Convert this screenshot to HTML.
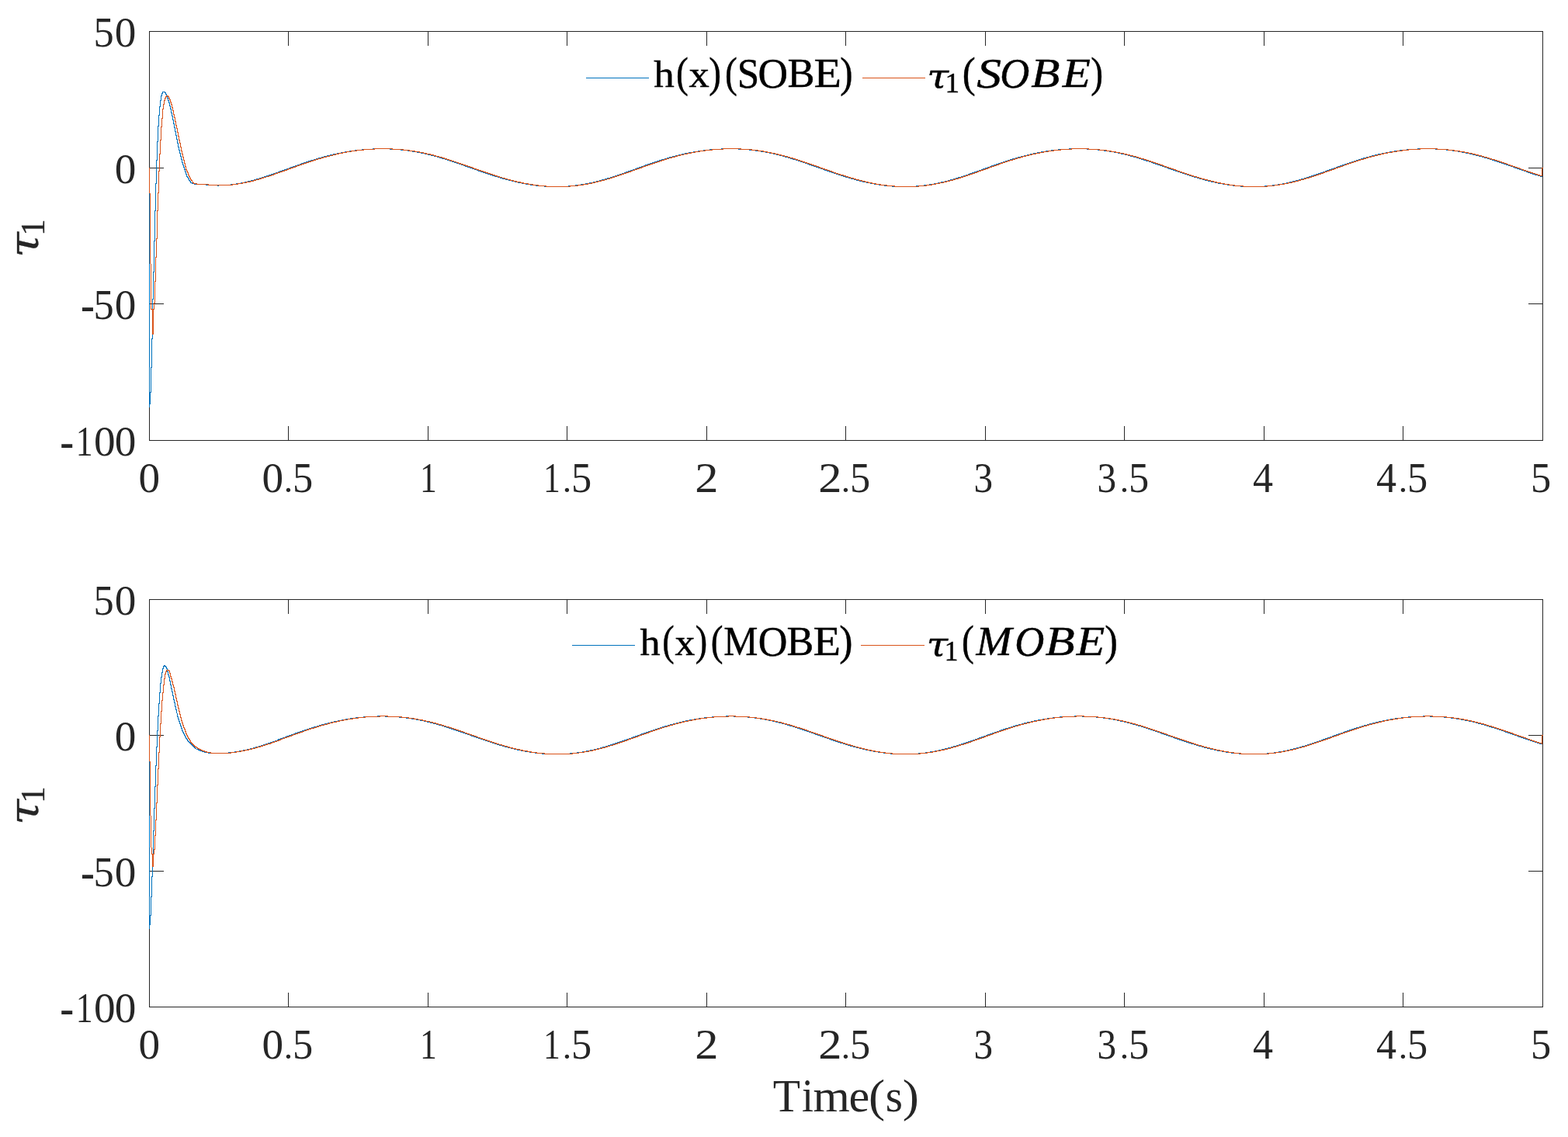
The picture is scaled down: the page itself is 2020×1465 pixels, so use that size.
<!DOCTYPE html>
<html lang="en">
<head>
<meta charset="utf-8">
<title>Figure</title>
<style>
html,body{margin:0;padding:0;background:#fff;}
body{width:2020px;height:1465px;overflow:hidden;}
svg{display:block;font-family:"Liberation Serif",serif;}
</style>
</head>
<body>
<svg width="2020" height="1465" viewBox="0 0 2020 1465">
<rect x="0" y="0" width="2020" height="1465" fill="#fff"/>
<g><path d="M192 40.5h1796M192 567.5h1796M192.5 40v528M1987.5 40v528M371.5 549v18M371.5 41v18M551.5 549v18M551.5 41v18M730.5 549v18M730.5 41v18M910.5 549v18M910.5 41v18M1089.5 549v18M1089.5 41v18M1269.5 549v18M1269.5 41v18M1448.5 549v18M1448.5 41v18M1628.5 549v18M1628.5 41v18M1807.5 549v18M1807.5 41v18M193 216.5h18M1969 216.5h18M193 391.5h18M1969 391.5h18" fill="none" stroke="#262626" stroke-width="1" shape-rendering="crispEdges"/>
<text fill="#262626"><tspan x="178.56" y="633.67" font-size="53.94" textLength="27.61" lengthAdjust="spacingAndGlyphs">0</tspan></text>
<text fill="#262626"><tspan x="337.56" y="633.67" font-size="53.94" textLength="27.61" lengthAdjust="spacingAndGlyphs">0</tspan><tspan x="365.80" y="634.23" font-size="43.99" textLength="11.36" lengthAdjust="spacingAndGlyphs">.</tspan><tspan x="377.02" y="633.66" font-size="54.77" textLength="26.19" lengthAdjust="spacingAndGlyphs">5</tspan></text>
<text fill="#262626"><tspan x="540.91" y="633.80" font-size="54.38" textLength="21.80" lengthAdjust="spacingAndGlyphs">1</tspan></text>
<text fill="#262626"><tspan x="699.91" y="633.80" font-size="54.38" textLength="21.80" lengthAdjust="spacingAndGlyphs">1</tspan><tspan x="724.80" y="634.23" font-size="43.99" textLength="11.36" lengthAdjust="spacingAndGlyphs">.</tspan><tspan x="736.02" y="633.66" font-size="54.77" textLength="26.19" lengthAdjust="spacingAndGlyphs">5</tspan></text>
<text fill="#262626"><tspan x="895.24" y="633.80" font-size="54.52" textLength="30.24" lengthAdjust="spacingAndGlyphs">2</tspan></text>
<text fill="#262626"><tspan x="1054.24" y="633.80" font-size="54.52" textLength="30.24" lengthAdjust="spacingAndGlyphs">2</tspan><tspan x="1083.80" y="634.23" font-size="43.99" textLength="11.36" lengthAdjust="spacingAndGlyphs">.</tspan><tspan x="1095.02" y="633.66" font-size="54.77" textLength="26.19" lengthAdjust="spacingAndGlyphs">5</tspan></text>
<text fill="#262626"><tspan x="1254.54" y="633.67" font-size="54.32" textLength="24.58" lengthAdjust="spacingAndGlyphs">3</tspan></text>
<text fill="#262626"><tspan x="1413.54" y="633.67" font-size="54.32" textLength="24.58" lengthAdjust="spacingAndGlyphs">3</tspan><tspan x="1442.80" y="634.23" font-size="43.99" textLength="11.36" lengthAdjust="spacingAndGlyphs">.</tspan><tspan x="1454.02" y="633.66" font-size="54.77" textLength="26.19" lengthAdjust="spacingAndGlyphs">5</tspan></text>
<text fill="#262626"><tspan x="1613.88" y="633.80" font-size="54.85" textLength="26.03" lengthAdjust="spacingAndGlyphs">4</tspan></text>
<text fill="#262626"><tspan x="1772.88" y="633.80" font-size="54.85" textLength="26.03" lengthAdjust="spacingAndGlyphs">4</tspan><tspan x="1801.80" y="634.23" font-size="43.99" textLength="11.36" lengthAdjust="spacingAndGlyphs">.</tspan><tspan x="1813.02" y="633.66" font-size="54.77" textLength="26.19" lengthAdjust="spacingAndGlyphs">5</tspan></text>
<text fill="#262626"><tspan x="1972.02" y="633.66" font-size="54.77" textLength="26.19" lengthAdjust="spacingAndGlyphs">5</tspan></text>
<text fill="#262626"><tspan x="120.59" y="59.96" font-size="54.77" textLength="26.19" lengthAdjust="spacingAndGlyphs">5</tspan><tspan x="147.80" y="59.97" font-size="53.94" textLength="27.61" lengthAdjust="spacingAndGlyphs">0</tspan></text>
<text fill="#262626"><tspan x="147.80" y="235.97" font-size="53.94" textLength="27.61" lengthAdjust="spacingAndGlyphs">0</tspan></text>
<text fill="#262626"><tspan x="103.95" y="414.12" font-size="63.45" textLength="17.92" lengthAdjust="spacingAndGlyphs">-</tspan><tspan x="120.59" y="410.96" font-size="54.77" textLength="26.19" lengthAdjust="spacingAndGlyphs">5</tspan><tspan x="147.80" y="410.97" font-size="53.94" textLength="27.61" lengthAdjust="spacingAndGlyphs">0</tspan></text>
<text fill="#262626"><tspan x="77.28" y="590.12" font-size="63.45" textLength="17.92" lengthAdjust="spacingAndGlyphs">-</tspan><tspan x="97.82" y="587.10" font-size="54.38" textLength="21.80" lengthAdjust="spacingAndGlyphs">1</tspan><tspan x="121.13" y="586.97" font-size="53.94" textLength="27.61" lengthAdjust="spacingAndGlyphs">0</tspan><tspan x="147.80" y="586.97" font-size="53.94" textLength="27.61" lengthAdjust="spacingAndGlyphs">0</tspan></text>
<text fill="#262626" stroke="#262626" stroke-width="0.3" stroke-linejoin="round" transform="rotate(-90)"><tspan x="-332.01" y="48.58" font-size="53.14" textLength="33.03" lengthAdjust="spacingAndGlyphs" font-style="italic" font-family="'DejaVu Serif','Liberation Serif',serif">τ</tspan><tspan x="-303.86" y="57.10" font-size="44.23" textLength="21.38" lengthAdjust="spacingAndGlyphs">1</tspan></text>
<path d="M192.5 249v276M193.5 505v16M194.5 473v33M195.5 436v38M196.5 385v52M197.5 350v36M198.5 310v41M199.5 271v40M200.5 236v36M201.5 206v31M202.5 182v25M203.5 162v21M204.5 148v15M205.5 137v12M206.5 129v9M207.5 123v7M208.5 120v4M209.5 118v3M212.5 118v2M213.5 119v3M214.5 121v3M215.5 123v4M216.5 126v4M217.5 129v4M218.5 132v5M219.5 136v5M220.5 140v6M221.5 145v5M222.5 149v6M223.5 154v6M224.5 159v6M225.5 164v6M226.5 169v6M227.5 174v6M228.5 179v6M229.5 184v6M230.5 189v5M231.5 193v5M232.5 197v5M233.5 201v5M234.5 205v5M235.5 209v4M236.5 212v4M237.5 215v4M238.5 218v4M239.5 221v4M240.5 224v4M241.5 227v2M242.5 228v3M243.5 230v3M244.5 232v2M245.5 233v3M247.5 235v2M265.5 237v2M280.5 238v2M281.5 238v2M297.5 237v2M304.5 236v2M310.5 235v2M315.5 234v2M319.5 233v2M323.5 232v2M327.5 231v2M330.5 230v2M334.5 229v2M337.5 228v2M340.5 227v2M343.5 226v2M346.5 225v2M349.5 224v2M352.5 223v2M355.5 222v2M358.5 221v2M360.5 220v2M363.5 219v2M366.5 218v2M369.5 217v2M372.5 216v2M374.5 215v2M377.5 214v2M380.5 213v2M383.5 212v2M386.5 211v2M388.5 210v2M391.5 209v2M394.5 208v2M397.5 207v2M400.5 206v2M404.5 205v2M407.5 204v2M410.5 203v2M414.5 202v2M417.5 201v2M421.5 200v2M425.5 199v2M429.5 198v2M434.5 197v2M439.5 196v2M444.5 195v2M450.5 194v2M457.5 193v2M466.5 192v2M480.5 191v2M502.5 191v2M516.5 192v2M525.5 193v2M531.5 194v2M537.5 195v2M542.5 196v2M547.5 197v2M551.5 198v2M555.5 199v2M559.5 200v2M563.5 201v2M566.5 202v2M569.5 203v2M573.5 204v2M576.5 205v2M579.5 206v2M582.5 207v2M585.5 208v2M588.5 209v2M591.5 210v2M594.5 211v2M597.5 212v2M599.5 213v2M602.5 214v2M605.5 215v2M608.5 216v2M611.5 217v2M614.5 218v2M616.5 219v2M619.5 220v2M622.5 221v2M625.5 222v2M628.5 223v2M631.5 224v2M634.5 225v2M637.5 226v2M641.5 227v2M644.5 228v2M647.5 229v2M651.5 230v2M655.5 231v2M659.5 232v2M663.5 233v2M667.5 234v2M672.5 235v2M677.5 236v2M683.5 237v2M690.5 238v2M701.5 239v2M732.5 239v2M741.5 238v2M748.5 237v2M754.5 236v2M759.5 235v2M764.5 234v2M768.5 233v2M772.5 232v2M775.5 231v2M779.5 230v2M782.5 229v2M786.5 228v2M789.5 227v2M792.5 226v2M795.5 225v2M798.5 224v2M801.5 223v2M804.5 222v2M806.5 221v2M809.5 220v2M812.5 219v2M815.5 218v2M818.5 217v2M820.5 216v2M823.5 215v2M826.5 214v2M829.5 213v2M831.5 212v2M834.5 211v2M837.5 210v2M840.5 209v2M843.5 208v2M846.5 207v2M849.5 206v2M852.5 205v2M856.5 204v2M859.5 203v2M862.5 202v2M866.5 201v2M870.5 200v2M874.5 199v2M878.5 198v2M882.5 197v2M887.5 196v2M893.5 195v2M899.5 194v2M906.5 193v2M914.5 192v2M929.5 191v2M951.5 191v2M965.5 192v2M973.5 193v2M980.5 194v2M986.5 195v2M991.5 196v2M996.5 197v2M1000.5 198v2M1004.5 199v2M1008.5 200v2M1011.5 201v2M1015.5 202v2M1018.5 203v2M1021.5 204v2M1025.5 205v2M1028.5 206v2M1031.5 207v2M1034.5 208v2M1037.5 209v2M1040.5 210v2M1042.5 211v2M1045.5 212v2M1048.5 213v2M1051.5 214v2M1054.5 215v2M1057.5 216v2M1062.5 218v2M1065.5 219v2M1068.5 220v2M1071.5 221v2M1074.5 222v2M1077.5 223v2M1080.5 224v2M1083.5 225v2M1086.5 226v2M1089.5 227v2M1093.5 228v2M1096.5 229v2M1100.5 230v2M1103.5 231v2M1107.5 232v2M1111.5 233v2M1116.5 234v2M1121.5 235v2M1126.5 236v2M1132.5 237v2M1139.5 238v2M1149.5 239v2M1180.5 239v2M1190.5 238v2M1197.5 237v2M1203.5 236v2M1208.5 235v2M1212.5 234v2M1217.5 233v2M1224.5 231v2M1228.5 230v2M1231.5 229v2M1234.5 228v2M1241.5 226v2M1244.5 225v2M1247.5 224v2M1249.5 223v2M1252.5 222v2M1255.5 221v2M1258.5 220v2M1261.5 219v2M1266.5 217v2M1269.5 216v2M1272.5 215v2M1275.5 214v2M1277.5 213v2M1280.5 212v2M1283.5 211v2M1286.5 210v2M1289.5 209v2M1292.5 208v2M1295.5 207v2M1298.5 206v2M1301.5 205v2M1304.5 204v2M1308.5 203v2M1311.5 202v2M1315.5 201v2M1319.5 200v2M1323.5 199v2M1327.5 198v2M1331.5 197v2M1336.5 196v2M1341.5 195v2M1347.5 194v2M1354.5 193v2M1363.5 192v2M1377.5 191v2M1400.5 191v2M1414.5 192v2M1422.5 193v2M1429.5 194v2M1435.5 195v2M1440.5 196v2M1444.5 197v2M1449.5 198v2M1453.5 199v2M1456.5 200v2M1460.5 201v2M1464.5 202v2M1467.5 203v2M1470.5 204v2M1473.5 205v2M1476.5 206v2M1485.5 209v2M1488.5 210v2M1491.5 211v2M1494.5 212v2M1497.5 213v2M1500.5 214v2M1503.5 215v2M1505.5 216v2M1508.5 217v2M1511.5 218v2M1514.5 219v2M1517.5 220v2M1520.5 221v2M1523.5 222v2M1526.5 223v2M1529.5 224v2M1532.5 225v2M1535.5 226v2M1538.5 227v2M1545.5 229v2M1552.5 231v2M1556.5 232v2M1560.5 233v2M1565.5 234v2M1569.5 235v2M1575.5 236v2M1581.5 237v2M1588.5 238v2M1598.5 239v2M1629.5 239v2M1639.5 238v2M1646.5 237v2M1652.5 236v2M1657.5 235v2M1661.5 234v2M1665.5 233v2M1669.5 232v2M1673.5 231v2M1676.5 230v2M1680.5 229v2M1683.5 228v2M1686.5 227v2M1689.5 226v2M1692.5 225v2M1695.5 224v2M1698.5 223v2M1701.5 222v2M1704.5 221v2M1707.5 220v2M1709.5 219v2M1712.5 218v2M1715.5 217v2M1718.5 216v2M1721.5 215v2M1723.5 214v2M1726.5 213v2M1729.5 212v2M1732.5 211v2M1735.5 210v2M1738.5 209v2M1741.5 208v2M1744.5 207v2M1747.5 206v2M1750.5 205v2M1753.5 204v2M1756.5 203v2M1760.5 202v2M1764.5 201v2M1767.5 200v2M1771.5 199v2M1775.5 198v2M1780.5 197v2M1785.5 196v2M1790.5 195v2M1796.5 194v2M1803.5 193v2M1812.5 192v2M1826.5 191v2M1849.5 191v2M1871.5 193v2M1878.5 194v2M1883.5 195v2M1888.5 196v2M1893.5 197v2M1897.5 198v2M1901.5 199v2M1905.5 200v2M1909.5 201v2M1912.5 202v2M1916.5 203v2M1919.5 204v2M1922.5 205v2M1925.5 206v2M1928.5 207v2M1931.5 208v2M1934.5 209v2M1937.5 210v2M1940.5 211v2M1943.5 212v2M1946.5 213v2M1951.5 215v2M1954.5 216v2M1957.5 217v2M1960.5 218v2M1963.5 219v2M1966.5 220v2M1968.5 221v2M1971.5 222v2M1974.5 223v2M1977.5 224v2M1981.5 225v2M1984.5 226v2M210 118.5h2M246 235.5h1M248 236.5h2M250 237.5h15M266 238.5h14M282 238.5h15M298 237.5h6M305 236.5h5M311 235.5h4M316 234.5h3M320 233.5h3M324 232.5h3M328 231.5h2M331 230.5h3M335 229.5h2M338 228.5h2M341 227.5h2M344 226.5h2M347 225.5h2M350 224.5h2M353 223.5h2M356 222.5h2M359 221.5h1M361 220.5h2M364 219.5h2M367 218.5h2M370 217.5h2M373 216.5h1M375 215.5h2M378 214.5h2M381 213.5h2M384 212.5h2M387 211.5h1M389 210.5h2M392 209.5h2M395 208.5h2M398 207.5h2M401 206.5h3M405 205.5h2M408 204.5h2M411 203.5h3M415 202.5h2M418 201.5h3M422 200.5h3M426 199.5h3M430 198.5h4M435 197.5h4M440 196.5h4M445 195.5h5M451 194.5h6M458 193.5h8M467 192.5h13M481 191.5h21M503 192.5h13M517 193.5h8M526 194.5h5M532 195.5h5M538 196.5h4M543 197.5h4M548 198.5h3M552 199.5h3M556 200.5h3M560 201.5h3M564 202.5h2M567 203.5h2M570 204.5h3M574 205.5h2M577 206.5h2M580 207.5h2M583 208.5h2M586 209.5h2M589 210.5h2M592 211.5h2M595 212.5h2M598 213.5h1M600 214.5h2M603 215.5h2M606 216.5h2M609 217.5h2M612 218.5h2M615 219.5h1M617 220.5h2M620 221.5h2M623 222.5h2M626 223.5h2M629 224.5h2M632 225.5h2M635 226.5h2M638 227.5h3M642 228.5h2M645 229.5h2M648 230.5h3M652 231.5h3M656 232.5h3M660 233.5h3M664 234.5h3M668 235.5h4M673 236.5h4M678 237.5h5M684 238.5h6M691 239.5h10M702 240.5h30M733 239.5h8M742 238.5h6M749 237.5h5M755 236.5h4M760 235.5h4M765 234.5h3M769 233.5h3M773 232.5h2M776 231.5h3M780 230.5h2M783 229.5h3M787 228.5h2M790 227.5h2M793 226.5h2M796 225.5h2M799 224.5h2M802 223.5h2M805 222.5h1M807 221.5h2M810 220.5h2M813 219.5h2M816 218.5h2M819 217.5h1M821 216.5h2M824 215.5h2M827 214.5h2M830 213.5h1M832 212.5h2M835 211.5h2M838 210.5h2M841 209.5h2M844 208.5h2M847 207.5h2M850 206.5h2M853 205.5h3M857 204.5h2M860 203.5h2M863 202.5h3M867 201.5h3M871 200.5h3M875 199.5h3M879 198.5h3M883 197.5h4M888 196.5h5M894 195.5h5M900 194.5h6M907 193.5h7M915 192.5h14M930 191.5h21M952 192.5h13M966 193.5h7M974 194.5h6M981 195.5h5M987 196.5h4M992 197.5h4M997 198.5h3M1001 199.5h3M1005 200.5h3M1009 201.5h2M1012 202.5h3M1016 203.5h2M1019 204.5h2M1022 205.5h3M1026 206.5h2M1029 207.5h2M1032 208.5h2M1035 209.5h2M1038 210.5h2M1041 211.5h1M1043 212.5h2M1046 213.5h2M1049 214.5h2M1052 215.5h2M1055 216.5h2M1058 217.5h2M1060 218.5h2M1063 219.5h2M1066 220.5h2M1069 221.5h2M1072 222.5h2M1075 223.5h2M1078 224.5h2M1081 225.5h2M1084 226.5h2M1087 227.5h2M1090 228.5h3M1094 229.5h2M1097 230.5h3M1101 231.5h2M1104 232.5h3M1108 233.5h3M1112 234.5h4M1117 235.5h4M1122 236.5h4M1127 237.5h5M1133 238.5h6M1140 239.5h9M1150 240.5h30M1181 239.5h9M1191 238.5h6M1198 237.5h5M1204 236.5h4M1209 235.5h3M1213 234.5h4M1218 233.5h3M1221 232.5h3M1225 231.5h3M1229 230.5h2M1232 229.5h2M1235 228.5h3M1238 227.5h3M1242 226.5h2M1245 225.5h2M1248 224.5h1M1250 223.5h2M1253 222.5h2M1256 221.5h2M1259 220.5h2M1262 219.5h2M1264 218.5h2M1267 217.5h2M1270 216.5h2M1273 215.5h2M1276 214.5h1M1278 213.5h2M1281 212.5h2M1284 211.5h2M1287 210.5h2M1290 209.5h2M1293 208.5h2M1296 207.5h2M1299 206.5h2M1302 205.5h2M1305 204.5h3M1309 203.5h2M1312 202.5h3M1316 201.5h3M1320 200.5h3M1324 199.5h3M1328 198.5h3M1332 197.5h4M1337 196.5h4M1342 195.5h5M1348 194.5h6M1355 193.5h8M1364 192.5h13M1378 191.5h22M1401 192.5h13M1415 193.5h7M1423 194.5h6M1430 195.5h5M1436 196.5h4M1441 197.5h3M1445 198.5h4M1450 199.5h3M1454 200.5h2M1457 201.5h3M1461 202.5h3M1465 203.5h2M1468 204.5h2M1471 205.5h2M1474 206.5h2M1477 207.5h3M1480 208.5h3M1483 209.5h2M1486 210.5h2M1489 211.5h2M1492 212.5h2M1495 213.5h2M1498 214.5h2M1501 215.5h2M1504 216.5h1M1506 217.5h2M1509 218.5h2M1512 219.5h2M1515 220.5h2M1518 221.5h2M1521 222.5h2M1524 223.5h2M1527 224.5h2M1530 225.5h2M1533 226.5h2M1536 227.5h2M1539 228.5h3M1542 229.5h3M1546 230.5h3M1549 231.5h3M1553 232.5h3M1557 233.5h3M1561 234.5h4M1566 235.5h3M1570 236.5h5M1576 237.5h5M1582 238.5h6M1589 239.5h9M1599 240.5h30M1630 239.5h9M1640 238.5h6M1647 237.5h5M1653 236.5h4M1658 235.5h3M1662 234.5h3M1666 233.5h3M1670 232.5h3M1674 231.5h2M1677 230.5h3M1681 229.5h2M1684 228.5h2M1687 227.5h2M1690 226.5h2M1693 225.5h2M1696 224.5h2M1699 223.5h2M1702 222.5h2M1705 221.5h2M1708 220.5h1M1710 219.5h2M1713 218.5h2M1716 217.5h2M1719 216.5h2M1722 215.5h1M1724 214.5h2M1727 213.5h2M1730 212.5h2M1733 211.5h2M1736 210.5h2M1739 209.5h2M1742 208.5h2M1745 207.5h2M1748 206.5h2M1751 205.5h2M1754 204.5h2M1757 203.5h3M1761 202.5h3M1765 201.5h2M1768 200.5h3M1772 199.5h3M1776 198.5h4M1781 197.5h4M1786 196.5h4M1791 195.5h5M1797 194.5h6M1804 193.5h8M1813 192.5h13M1827 191.5h22M1850 192.5h13M1863 193.5h8M1872 194.5h6M1879 195.5h4M1884 196.5h4M1889 197.5h4M1894 198.5h3M1898 199.5h3M1902 200.5h3M1906 201.5h3M1910 202.5h2M1913 203.5h3M1917 204.5h2M1920 205.5h2M1923 206.5h2M1926 207.5h2M1929 208.5h2M1932 209.5h2M1935 210.5h2M1938 211.5h2M1941 212.5h2M1944 213.5h2M1947 214.5h2M1949 215.5h2M1952 216.5h2M1955 217.5h2M1958 218.5h2M1961 219.5h2M1964 220.5h2M1967 221.5h1M1969 222.5h2M1972 223.5h2M1975 224.5h2M1978 225.5h3M1982 226.5h2M1985 227.5h2" fill="none" stroke="#0072BD" stroke-width="1" shape-rendering="crispEdges"/>
<path d="M192.5 216v33M193.5 249v91M194.5 340v59M196.5 398v33M197.5 398v33M198.5 390v9M199.5 362v29M200.5 331v32M201.5 307v25M202.5 271v37M203.5 248v24M204.5 220v29M205.5 198v23M206.5 180v19M207.5 163v18M208.5 152v12M209.5 140v13M210.5 134v7M211.5 129v6M212.5 126v4M213.5 124v3M214.5 123v2M216.5 123v2M217.5 124v3M218.5 126v3M219.5 128v4M220.5 131v4M221.5 134v5M222.5 138v5M223.5 142v6M224.5 147v5M225.5 151v6M226.5 156v6M227.5 161v5M228.5 165v6M229.5 170v6M230.5 175v6M231.5 180v5M232.5 184v6M233.5 189v6M234.5 194v5M235.5 198v5M236.5 202v5M237.5 206v5M238.5 210v5M239.5 214v5M240.5 218v3M241.5 220v3M242.5 222v4M243.5 225v3M244.5 227v3M245.5 229v3M246.5 231v2M247.5 232v2M248.5 234v2M249.5 235v2M253.5 236v2M268.5 237v2M299.5 237v2M306.5 236v2M312.5 235v2M317.5 234v2M322.5 233v2M326.5 232v2M329.5 231v2M333.5 230v2M336.5 229v2M339.5 228v2M346.5 226v2M349.5 225v2M352.5 224v2M354.5 223v2M357.5 222v2M360.5 221v2M363.5 220v2M366.5 219v2M369.5 218v2M371.5 217v2M374.5 216v2M377.5 215v2M380.5 214v2M382.5 213v2M385.5 212v2M388.5 211v2M391.5 210v2M394.5 209v2M397.5 208v2M400.5 207v2M403.5 206v2M406.5 205v2M409.5 204v2M413.5 203v2M416.5 202v2M420.5 201v2M424.5 200v2M428.5 199v2M432.5 198v2M436.5 197v2M441.5 196v2M446.5 195v2M452.5 194v2M459.5 193v2M468.5 192v2M482.5 191v2M505.5 191v2M519.5 192v2M527.5 193v2M534.5 194v2M540.5 195v2M545.5 196v2M549.5 197v2M554.5 198v2M558.5 199v2M561.5 200v2M565.5 201v2M569.5 202v2M572.5 203v2M575.5 204v2M578.5 205v2M581.5 206v2M590.5 209v2M593.5 210v2M596.5 211v2M599.5 212v2M602.5 213v2M605.5 214v2M608.5 215v2M610.5 216v2M613.5 217v2M616.5 218v2M619.5 219v2M622.5 220v2M625.5 221v2M628.5 222v2M631.5 223v2M634.5 224v2M637.5 225v2M640.5 226v2M643.5 227v2M650.5 229v2M657.5 231v2M661.5 232v2M665.5 233v2M670.5 234v2M674.5 235v2M680.5 236v2M686.5 237v2M693.5 238v2M703.5 239v2M734.5 239v2M744.5 238v2M751.5 237v2M757.5 236v2M762.5 235v2M766.5 234v2M770.5 233v2M774.5 232v2M778.5 231v2M785.5 229v2M788.5 228v2M791.5 227v2M794.5 226v2M797.5 225v2M800.5 224v2M803.5 223v2M806.5 222v2M809.5 221v2M812.5 220v2M817.5 218v2M820.5 217v2M823.5 216v2M826.5 215v2M828.5 214v2M831.5 213v2M834.5 212v2M837.5 211v2M840.5 210v2M843.5 209v2M846.5 208v2M849.5 207v2M852.5 206v2M855.5 205v2M858.5 204v2M865.5 202v2M869.5 201v2M872.5 200v2M876.5 199v2M885.5 197v2M890.5 196v2M895.5 195v2M901.5 194v2M908.5 193v2M917.5 192v2M931.5 191v2M954.5 191v2M968.5 192v2M976.5 193v2M983.5 194v2M988.5 195v2M993.5 196v2M998.5 197v2M1002.5 198v2M1006.5 199v2M1010.5 200v2M1014.5 201v2M1017.5 202v2M1021.5 203v2M1024.5 204v2M1027.5 205v2M1030.5 206v2M1033.5 207v2M1036.5 208v2M1039.5 209v2M1042.5 210v2M1045.5 211v2M1048.5 212v2M1051.5 213v2M1054.5 214v2M1056.5 215v2M1059.5 216v2M1062.5 217v2M1065.5 218v2M1068.5 219v2M1071.5 220v2M1076.5 222v2M1079.5 223v2M1082.5 224v2M1086.5 225v2M1089.5 226v2M1092.5 227v2M1095.5 228v2M1099.5 229v2M1102.5 230v2M1106.5 231v2M1110.5 232v2M1114.5 233v2M1118.5 234v2M1123.5 235v2M1128.5 236v2M1134.5 237v2M1142.5 238v2M1152.5 239v2M1183.5 239v2M1193.5 238v2M1200.5 237v2M1205.5 236v2M1210.5 235v2M1215.5 234v2M1219.5 233v2M1223.5 232v2M1227.5 231v2M1230.5 230v2M1234.5 229v2M1237.5 228v2M1240.5 227v2M1243.5 226v2M1246.5 225v2M1249.5 224v2M1252.5 223v2M1255.5 222v2M1258.5 221v2M1260.5 220v2M1263.5 219v2M1266.5 218v2M1269.5 217v2M1272.5 216v2M1274.5 215v2M1277.5 214v2M1280.5 213v2M1283.5 212v2M1286.5 211v2M1288.5 210v2M1291.5 209v2M1294.5 208v2M1297.5 207v2M1300.5 206v2M1304.5 205v2M1307.5 204v2M1310.5 203v2M1314.5 202v2M1317.5 201v2M1321.5 200v2M1325.5 199v2M1329.5 198v2M1334.5 197v2M1339.5 196v2M1344.5 195v2M1350.5 194v2M1357.5 193v2M1366.5 192v2M1380.5 191v2M1402.5 191v2M1416.5 192v2M1425.5 193v2M1431.5 194v2M1437.5 195v2M1442.5 196v2M1447.5 197v2M1451.5 198v2M1455.5 199v2M1459.5 200v2M1463.5 201v2M1466.5 202v2M1469.5 203v2M1473.5 204v2M1476.5 205v2M1479.5 206v2M1482.5 207v2M1485.5 208v2M1488.5 209v2M1491.5 210v2M1494.5 211v2M1497.5 212v2M1499.5 213v2M1502.5 214v2M1505.5 215v2M1508.5 216v2M1511.5 217v2M1514.5 218v2M1516.5 219v2M1519.5 220v2M1522.5 221v2M1525.5 222v2M1528.5 223v2M1531.5 224v2M1534.5 225v2M1537.5 226v2M1541.5 227v2M1544.5 228v2M1547.5 229v2M1551.5 230v2M1555.5 231v2M1559.5 232v2M1563.5 233v2M1567.5 234v2M1572.5 235v2M1577.5 236v2M1583.5 237v2M1590.5 238v2M1601.5 239v2M1632.5 239v2M1648.5 237v2M1654.5 236v2M1659.5 235v2M1664.5 234v2M1668.5 233v2M1672.5 232v2M1675.5 231v2M1679.5 230v2M1682.5 229v2M1686.5 228v2M1689.5 227v2M1692.5 226v2M1695.5 225v2M1698.5 224v2M1701.5 223v2M1704.5 222v2M1706.5 221v2M1709.5 220v2M1712.5 219v2M1715.5 218v2M1718.5 217v2M1720.5 216v2M1723.5 215v2M1726.5 214v2M1729.5 213v2M1734.5 211v2M1737.5 210v2M1740.5 209v2M1743.5 208v2M1746.5 207v2M1749.5 206v2M1752.5 205v2M1756.5 204v2M1759.5 203v2M1762.5 202v2M1766.5 201v2M1770.5 200v2M1774.5 199v2M1778.5 198v2M1782.5 197v2M1787.5 196v2M1793.5 195v2M1799.5 194v2M1806.5 193v2M1814.5 192v2M1829.5 191v2M1851.5 191v2M1865.5 192v2M1873.5 193v2M1880.5 194v2M1886.5 195v2M1891.5 196v2M1896.5 197v2M1900.5 198v2M1904.5 199v2M1908.5 200v2M1911.5 201v2M1915.5 202v2M1918.5 203v2M1921.5 204v2M1925.5 205v2M1928.5 206v2M1931.5 207v2M1934.5 208v2M1937.5 209v2M1940.5 210v2M1945.5 212v2M1948.5 213v2M1951.5 214v2M1954.5 215v2M1957.5 216v2M1962.5 218v2M1965.5 219v2M1968.5 220v2M1971.5 221v2M1974.5 222v2M1977.5 223v2M1980.5 224v2M1983.5 225v2M1986.5 216v11M195 398.5h1M215 123.5h1M250 236.5h3M254 237.5h14M269 238.5h30M300 237.5h6M307 236.5h5M313 235.5h4M318 234.5h4M323 233.5h3M327 232.5h2M330 231.5h3M334 230.5h2M337 229.5h2M340 228.5h3M343 227.5h3M347 226.5h2M350 225.5h2M353 224.5h1M355 223.5h2M358 222.5h2M361 221.5h2M364 220.5h2M367 219.5h2M370 218.5h1M372 217.5h2M375 216.5h2M378 215.5h2M381 214.5h1M383 213.5h2M386 212.5h2M389 211.5h2M392 210.5h2M395 209.5h2M398 208.5h2M401 207.5h2M404 206.5h2M407 205.5h2M410 204.5h3M414 203.5h2M417 202.5h3M421 201.5h3M425 200.5h3M429 199.5h3M433 198.5h3M437 197.5h4M442 196.5h4M447 195.5h5M453 194.5h6M460 193.5h8M469 192.5h13M483 191.5h22M506 192.5h13M520 193.5h7M528 194.5h6M535 195.5h5M541 196.5h4M546 197.5h3M550 198.5h4M555 199.5h3M559 200.5h2M562 201.5h3M566 202.5h3M570 203.5h2M573 204.5h2M576 205.5h2M579 206.5h2M582 207.5h3M585 208.5h3M588 209.5h2M591 210.5h2M594 211.5h2M597 212.5h2M600 213.5h2M603 214.5h2M606 215.5h2M609 216.5h1M611 217.5h2M614 218.5h2M617 219.5h2M620 220.5h2M623 221.5h2M626 222.5h2M629 223.5h2M632 224.5h2M635 225.5h2M638 226.5h2M641 227.5h2M644 228.5h3M647 229.5h3M651 230.5h3M654 231.5h3M658 232.5h3M662 233.5h3M666 234.5h4M671 235.5h3M675 236.5h5M681 237.5h5M687 238.5h6M694 239.5h9M704 240.5h30M735 239.5h9M745 238.5h6M752 237.5h5M758 236.5h4M763 235.5h3M767 234.5h3M771 233.5h3M775 232.5h3M779 231.5h3M782 230.5h3M786 229.5h2M789 228.5h2M792 227.5h2M795 226.5h2M798 225.5h2M801 224.5h2M804 223.5h2M807 222.5h2M810 221.5h2M813 220.5h2M815 219.5h2M818 218.5h2M821 217.5h2M824 216.5h2M827 215.5h1M829 214.5h2M832 213.5h2M835 212.5h2M838 211.5h2M841 210.5h2M844 209.5h2M847 208.5h2M850 207.5h2M853 206.5h2M856 205.5h2M859 204.5h3M862 203.5h3M866 202.5h3M870 201.5h2M873 200.5h3M877 199.5h4M881 198.5h4M886 197.5h4M891 196.5h4M896 195.5h5M902 194.5h6M909 193.5h8M918 192.5h13M932 191.5h22M955 192.5h13M969 193.5h7M977 194.5h6M984 195.5h4M989 196.5h4M994 197.5h4M999 198.5h3M1003 199.5h3M1007 200.5h3M1011 201.5h3M1015 202.5h2M1018 203.5h3M1022 204.5h2M1025 205.5h2M1028 206.5h2M1031 207.5h2M1034 208.5h2M1037 209.5h2M1040 210.5h2M1043 211.5h2M1046 212.5h2M1049 213.5h2M1052 214.5h2M1055 215.5h1M1057 216.5h2M1060 217.5h2M1063 218.5h2M1066 219.5h2M1069 220.5h2M1072 221.5h2M1074 222.5h2M1077 223.5h2M1080 224.5h2M1083 225.5h3M1087 226.5h2M1090 227.5h2M1093 228.5h2M1096 229.5h3M1100 230.5h2M1103 231.5h3M1107 232.5h3M1111 233.5h3M1115 234.5h3M1119 235.5h4M1124 236.5h4M1129 237.5h5M1135 238.5h7M1143 239.5h9M1153 240.5h30M1184 239.5h9M1194 238.5h6M1201 237.5h4M1206 236.5h4M1211 235.5h4M1216 234.5h3M1220 233.5h3M1224 232.5h3M1228 231.5h2M1231 230.5h3M1235 229.5h2M1238 228.5h2M1241 227.5h2M1244 226.5h2M1247 225.5h2M1250 224.5h2M1253 223.5h2M1256 222.5h2M1259 221.5h1M1261 220.5h2M1264 219.5h2M1267 218.5h2M1270 217.5h2M1273 216.5h1M1275 215.5h2M1278 214.5h2M1281 213.5h2M1284 212.5h2M1287 211.5h1M1289 210.5h2M1292 209.5h2M1295 208.5h2M1298 207.5h2M1301 206.5h3M1305 205.5h2M1308 204.5h2M1311 203.5h3M1315 202.5h2M1318 201.5h3M1322 200.5h3M1326 199.5h3M1330 198.5h4M1335 197.5h4M1340 196.5h4M1345 195.5h5M1351 194.5h6M1358 193.5h8M1367 192.5h13M1381 191.5h21M1403 192.5h13M1417 193.5h8M1426 194.5h5M1432 195.5h5M1438 196.5h4M1443 197.5h4M1448 198.5h3M1452 199.5h3M1456 200.5h3M1460 201.5h3M1464 202.5h2M1467 203.5h2M1470 204.5h3M1474 205.5h2M1477 206.5h2M1480 207.5h2M1483 208.5h2M1486 209.5h2M1489 210.5h2M1492 211.5h2M1495 212.5h2M1498 213.5h1M1500 214.5h2M1503 215.5h2M1506 216.5h2M1509 217.5h2M1512 218.5h2M1515 219.5h1M1517 220.5h2M1520 221.5h2M1523 222.5h2M1526 223.5h2M1529 224.5h2M1532 225.5h2M1535 226.5h2M1538 227.5h3M1542 228.5h2M1545 229.5h2M1548 230.5h3M1552 231.5h3M1556 232.5h3M1560 233.5h3M1564 234.5h3M1568 235.5h4M1573 236.5h4M1578 237.5h5M1584 238.5h6M1591 239.5h10M1602 240.5h30M1633 239.5h9M1642 238.5h6M1649 237.5h5M1655 236.5h4M1660 235.5h4M1665 234.5h3M1669 233.5h3M1673 232.5h2M1676 231.5h3M1680 230.5h2M1683 229.5h3M1687 228.5h2M1690 227.5h2M1693 226.5h2M1696 225.5h2M1699 224.5h2M1702 223.5h2M1705 222.5h1M1707 221.5h2M1710 220.5h2M1713 219.5h2M1716 218.5h2M1719 217.5h1M1721 216.5h2M1724 215.5h2M1727 214.5h2M1730 213.5h2M1732 212.5h2M1735 211.5h2M1738 210.5h2M1741 209.5h2M1744 208.5h2M1747 207.5h2M1750 206.5h2M1753 205.5h3M1757 204.5h2M1760 203.5h2M1763 202.5h3M1767 201.5h3M1771 200.5h3M1775 199.5h3M1779 198.5h3M1783 197.5h4M1788 196.5h5M1794 195.5h5M1800 194.5h6M1807 193.5h7M1815 192.5h14M1830 191.5h21M1852 192.5h13M1866 193.5h7M1874 194.5h6M1881 195.5h5M1887 196.5h4M1892 197.5h4M1897 198.5h3M1901 199.5h3M1905 200.5h3M1909 201.5h2M1912 202.5h3M1916 203.5h2M1919 204.5h2M1922 205.5h3M1926 206.5h2M1929 207.5h2M1932 208.5h2M1935 209.5h2M1938 210.5h2M1941 211.5h2M1943 212.5h2M1946 213.5h2M1949 214.5h2M1952 215.5h2M1955 216.5h2M1958 217.5h2M1960 218.5h2M1963 219.5h2M1966 220.5h2M1969 221.5h2M1972 222.5h2M1975 223.5h2M1978 224.5h2M1981 225.5h2M1984 226.5h2M1987 216.5h1" fill="none" stroke="#D95319" stroke-width="1" shape-rendering="crispEdges"/>
<path d="M755 100.5h81" stroke="#0072BD" stroke-width="1" shape-rendering="crispEdges"/>
<path d="M1111 100.5h81" stroke="#D95319" stroke-width="1" shape-rendering="crispEdges"/>
<text fill="#000" stroke="#000" stroke-width="0.45" stroke-linejoin="round" ><tspan x="842.18" y="112.00" font-size="49.44" textLength="26.52" lengthAdjust="spacingAndGlyphs">h</tspan><tspan x="870.92" y="112.39" font-size="54.04" textLength="15.81" lengthAdjust="spacingAndGlyphs">(</tspan><tspan x="887.44" y="112.00" font-size="48.15" textLength="26.30" lengthAdjust="spacingAndGlyphs">x</tspan><tspan x="913.37" y="112.39" font-size="54.04" textLength="15.81" lengthAdjust="spacingAndGlyphs">)</tspan><tspan x="933.92" y="112.39" font-size="54.04" textLength="15.81" lengthAdjust="spacingAndGlyphs">(</tspan><tspan x="949.69" y="112.57" font-size="53.88" textLength="28.38" lengthAdjust="spacingAndGlyphs">S</tspan><tspan x="976.62" y="112.57" font-size="53.88" textLength="38.47" lengthAdjust="spacingAndGlyphs">O</tspan><tspan x="1014.49" y="112.00" font-size="51.92" textLength="34.97" lengthAdjust="spacingAndGlyphs">B</tspan><tspan x="1048.43" y="112.00" font-size="51.92" textLength="35.46" lengthAdjust="spacingAndGlyphs">E</tspan><tspan x="1082.22" y="112.39" font-size="54.04" textLength="16.33" lengthAdjust="spacingAndGlyphs">)</tspan></text>
<text fill="#000" stroke="#000" stroke-width="0.45" stroke-linejoin="round" ><tspan x="1194.34" y="112.54" font-size="43.62" textLength="27.99" lengthAdjust="spacingAndGlyphs" font-style="italic" font-family="'DejaVu Serif','Liberation Serif',serif">τ</tspan><tspan x="1217.63" y="119.00" font-size="34.84" textLength="18.61" lengthAdjust="spacingAndGlyphs">1</tspan><tspan x="1239.76" y="112.39" font-size="54.04" textLength="16.98" lengthAdjust="spacingAndGlyphs">(</tspan><tspan x="1258.16" y="112.57" font-size="53.88" textLength="31.77" lengthAdjust="spacingAndGlyphs" font-style="italic">S</tspan><tspan x="1288.35" y="112.57" font-size="53.88" textLength="38.09" lengthAdjust="spacingAndGlyphs" font-style="italic">O</tspan><tspan x="1328.23" y="112.00" font-size="51.92" textLength="37.20" lengthAdjust="spacingAndGlyphs" font-style="italic">B</tspan><tspan x="1368.69" y="112.00" font-size="51.92" textLength="36.16" lengthAdjust="spacingAndGlyphs" font-style="italic">E</tspan><tspan x="1405.37" y="112.39" font-size="54.04" textLength="15.81" lengthAdjust="spacingAndGlyphs">)</tspan></text></g>
<g><path d="M192 772.5h1796M192 1297.5h1796M192.5 772v526M1987.5 772v526M371.5 1279v18M371.5 773v18M551.5 1279v18M551.5 773v18M730.5 1279v18M730.5 773v18M910.5 1279v18M910.5 773v18M1089.5 1279v18M1089.5 773v18M1269.5 1279v18M1269.5 773v18M1448.5 1279v18M1448.5 773v18M1628.5 1279v18M1628.5 773v18M1807.5 1279v18M1807.5 773v18M193 947.5h18M1969 947.5h18M193 1122.5h18M1969 1122.5h18" fill="none" stroke="#262626" stroke-width="1" shape-rendering="crispEdges"/>
<text fill="#262626"><tspan x="178.56" y="1363.67" font-size="53.94" textLength="27.61" lengthAdjust="spacingAndGlyphs">0</tspan></text>
<text fill="#262626"><tspan x="337.56" y="1363.67" font-size="53.94" textLength="27.61" lengthAdjust="spacingAndGlyphs">0</tspan><tspan x="365.80" y="1364.23" font-size="43.99" textLength="11.36" lengthAdjust="spacingAndGlyphs">.</tspan><tspan x="377.02" y="1363.66" font-size="54.77" textLength="26.19" lengthAdjust="spacingAndGlyphs">5</tspan></text>
<text fill="#262626"><tspan x="540.91" y="1363.80" font-size="54.38" textLength="21.80" lengthAdjust="spacingAndGlyphs">1</tspan></text>
<text fill="#262626"><tspan x="699.91" y="1363.80" font-size="54.38" textLength="21.80" lengthAdjust="spacingAndGlyphs">1</tspan><tspan x="724.80" y="1364.23" font-size="43.99" textLength="11.36" lengthAdjust="spacingAndGlyphs">.</tspan><tspan x="736.02" y="1363.66" font-size="54.77" textLength="26.19" lengthAdjust="spacingAndGlyphs">5</tspan></text>
<text fill="#262626"><tspan x="895.24" y="1363.80" font-size="54.52" textLength="30.24" lengthAdjust="spacingAndGlyphs">2</tspan></text>
<text fill="#262626"><tspan x="1054.24" y="1363.80" font-size="54.52" textLength="30.24" lengthAdjust="spacingAndGlyphs">2</tspan><tspan x="1083.80" y="1364.23" font-size="43.99" textLength="11.36" lengthAdjust="spacingAndGlyphs">.</tspan><tspan x="1095.02" y="1363.66" font-size="54.77" textLength="26.19" lengthAdjust="spacingAndGlyphs">5</tspan></text>
<text fill="#262626"><tspan x="1254.54" y="1363.67" font-size="54.32" textLength="24.58" lengthAdjust="spacingAndGlyphs">3</tspan></text>
<text fill="#262626"><tspan x="1413.54" y="1363.67" font-size="54.32" textLength="24.58" lengthAdjust="spacingAndGlyphs">3</tspan><tspan x="1442.80" y="1364.23" font-size="43.99" textLength="11.36" lengthAdjust="spacingAndGlyphs">.</tspan><tspan x="1454.02" y="1363.66" font-size="54.77" textLength="26.19" lengthAdjust="spacingAndGlyphs">5</tspan></text>
<text fill="#262626"><tspan x="1613.88" y="1363.80" font-size="54.85" textLength="26.03" lengthAdjust="spacingAndGlyphs">4</tspan></text>
<text fill="#262626"><tspan x="1772.88" y="1363.80" font-size="54.85" textLength="26.03" lengthAdjust="spacingAndGlyphs">4</tspan><tspan x="1801.80" y="1364.23" font-size="43.99" textLength="11.36" lengthAdjust="spacingAndGlyphs">.</tspan><tspan x="1813.02" y="1363.66" font-size="54.77" textLength="26.19" lengthAdjust="spacingAndGlyphs">5</tspan></text>
<text fill="#262626"><tspan x="1972.02" y="1363.66" font-size="54.77" textLength="26.19" lengthAdjust="spacingAndGlyphs">5</tspan></text>
<text fill="#262626"><tspan x="120.59" y="791.96" font-size="54.77" textLength="26.19" lengthAdjust="spacingAndGlyphs">5</tspan><tspan x="147.80" y="791.97" font-size="53.94" textLength="27.61" lengthAdjust="spacingAndGlyphs">0</tspan></text>
<text fill="#262626"><tspan x="147.80" y="966.97" font-size="53.94" textLength="27.61" lengthAdjust="spacingAndGlyphs">0</tspan></text>
<text fill="#262626"><tspan x="103.95" y="1145.12" font-size="63.45" textLength="17.92" lengthAdjust="spacingAndGlyphs">-</tspan><tspan x="120.59" y="1141.96" font-size="54.77" textLength="26.19" lengthAdjust="spacingAndGlyphs">5</tspan><tspan x="147.80" y="1141.97" font-size="53.94" textLength="27.61" lengthAdjust="spacingAndGlyphs">0</tspan></text>
<text fill="#262626"><tspan x="77.28" y="1320.12" font-size="63.45" textLength="17.92" lengthAdjust="spacingAndGlyphs">-</tspan><tspan x="97.82" y="1317.10" font-size="54.38" textLength="21.80" lengthAdjust="spacingAndGlyphs">1</tspan><tspan x="121.13" y="1316.97" font-size="53.94" textLength="27.61" lengthAdjust="spacingAndGlyphs">0</tspan><tspan x="147.80" y="1316.97" font-size="53.94" textLength="27.61" lengthAdjust="spacingAndGlyphs">0</tspan></text>
<text fill="#262626" stroke="#262626" stroke-width="0.3" stroke-linejoin="round" transform="rotate(-90)"><tspan x="-1063.00" y="48.58" font-size="53.14" textLength="33.30" lengthAdjust="spacingAndGlyphs" font-style="italic" font-family="'DejaVu Serif','Liberation Serif',serif">τ</tspan><tspan x="-1034.81" y="57.10" font-size="44.23" textLength="21.38" lengthAdjust="spacingAndGlyphs">1</tspan></text>
<path d="M192.5 981v216M193.5 1179v13M194.5 1155v25M195.5 1129v27M196.5 1100v30M197.5 1070v31M198.5 1041v30M199.5 1013v29M200.5 986v28M201.5 962v25M202.5 941v22M203.5 922v20M204.5 906v17M205.5 892v15M206.5 880v13M207.5 872v9M208.5 866v7M209.5 861v6M210.5 858v4M211.5 857v2M212.5 857v2M213.5 858v2M214.5 859v3M215.5 861v5M216.5 865v5M217.5 869v4M218.5 872v6M219.5 877v6M220.5 882v6M221.5 887v5M222.5 891v6M223.5 896v6M224.5 901v5M225.5 905v6M226.5 910v5M227.5 914v5M228.5 919v5M229.5 923v4M230.5 926v4M231.5 929v4M232.5 932v4M233.5 935v4M234.5 938v4M235.5 941v3M236.5 943v3M237.5 945v3M238.5 947v3M239.5 949v3M240.5 951v2M241.5 952v3M242.5 954v2M243.5 955v2M244.5 956v2M245.5 957v2M246.5 958v2M247.5 959v2M248.5 960v2M249.5 961v2M250.5 962v2M251.5 963v2M255.5 965v2M257.5 966v2M260.5 967v2M263.5 968v2M268.5 969v2M294.5 969v2M302.5 968v2M308.5 967v2M313.5 966v2M318.5 965v2M322.5 964v2M326.5 963v2M329.5 962v2M333.5 961v2M336.5 960v2M339.5 959v2M342.5 958v2M345.5 957v2M348.5 956v2M351.5 955v2M354.5 954v2M357.5 953v2M358.5 952v2M361.5 951v2M364.5 950v2M367.5 949v2M369.5 948v2M372.5 947v2M375.5 946v2M378.5 945v2M380.5 944v2M383.5 943v2M386.5 942v2M389.5 941v2M392.5 940v2M395.5 939v2M398.5 938v2M401.5 937v2M404.5 936v2M411.5 934v2M414.5 933v2M418.5 932v2M422.5 931v2M426.5 930v2M430.5 929v2M435.5 928v2M440.5 927v2M445.5 926v2M451.5 925v2M458.5 924v2M468.5 923v2M486.5 922v2M496.5 922v2M514.5 923v2M523.5 924v2M530.5 925v2M536.5 926v2M541.5 927v2M546.5 928v2M550.5 929v2M554.5 930v2M558.5 931v2M562.5 932v2M565.5 933v2M569.5 934v2M572.5 935v2M575.5 936v2M578.5 937v2M581.5 938v2M584.5 939v2M587.5 940v2M590.5 941v2M593.5 942v2M596.5 943v2M599.5 944v2M602.5 945v2M607.5 947v2M610.5 948v2M613.5 949v2M616.5 950v2M619.5 951v2M622.5 952v2M625.5 953v2M628.5 954v2M631.5 955v2M634.5 956v2M637.5 957v2M640.5 958v2M643.5 959v2M647.5 960v2M650.5 961v2M654.5 962v2M658.5 963v2M662.5 964v2M666.5 965v2M671.5 966v2M676.5 967v2M682.5 968v2M689.5 969v2M698.5 970v2M734.5 970v2M743.5 969v2M750.5 968v2M755.5 967v2M760.5 966v2M765.5 965v2M769.5 964v2M776.5 962v2M780.5 961v2M783.5 960v2M786.5 959v2M789.5 958v2M792.5 957v2M795.5 956v2M798.5 955v2M801.5 954v2M804.5 953v2M807.5 952v2M810.5 951v2M813.5 950v2M815.5 949v2M818.5 948v2M821.5 947v2M824.5 946v2M826.5 945v2M829.5 944v2M832.5 943v2M835.5 942v2M838.5 941v2M841.5 940v2M844.5 939v2M847.5 938v2M850.5 937v2M853.5 936v2M856.5 935v2M860.5 934v2M863.5 933v2M867.5 932v2M871.5 931v2M875.5 930v2M879.5 929v2M883.5 928v2M888.5 927v2M894.5 926v2M900.5 925v2M907.5 924v2M917.5 923v2M935.5 922v2M945.5 922v2M963.5 923v2M972.5 924v2M979.5 925v2M985.5 926v2M990.5 927v2M995.5 928v2M999.5 929v2M1003.5 930v2M1007.5 931v2M1011.5 932v2M1014.5 933v2M1017.5 934v2M1021.5 935v2M1024.5 936v2M1027.5 937v2M1030.5 938v2M1033.5 939v2M1036.5 940v2M1039.5 941v2M1042.5 942v2M1045.5 943v2M1048.5 944v2M1050.5 945v2M1053.5 946v2M1056.5 947v2M1059.5 948v2M1062.5 949v2M1065.5 950v2M1070.5 952v2M1073.5 953v2M1076.5 954v2M1079.5 955v2M1082.5 956v2M1086.5 957v2M1089.5 958v2M1092.5 959v2M1095.5 960v2M1099.5 961v2M1103.5 962v2M1107.5 963v2M1111.5 964v2M1115.5 965v2M1120.5 966v2M1125.5 967v2M1131.5 968v2M1138.5 969v2M1147.5 970v2M1183.5 970v2M1192.5 969v2M1198.5 968v2M1204.5 967v2M1209.5 966v2M1213.5 965v2M1217.5 964v2M1221.5 963v2M1225.5 962v2M1228.5 961v2M1232.5 960v2M1235.5 959v2M1238.5 958v2M1241.5 957v2M1244.5 956v2M1247.5 955v2M1250.5 954v2M1253.5 953v2M1256.5 952v2M1261.5 950v2M1264.5 949v2M1267.5 948v2M1270.5 947v2M1272.5 946v2M1275.5 945v2M1278.5 944v2M1281.5 943v2M1284.5 942v2M1289.5 940v2M1292.5 939v2M1295.5 938v2M1299.5 937v2M1302.5 936v2M1305.5 935v2M1308.5 934v2M1312.5 933v2M1316.5 932v2M1319.5 931v2M1323.5 930v2M1328.5 929v2M1332.5 928v2M1337.5 927v2M1349.5 925v2M1356.5 924v2M1365.5 923v2M1384.5 922v2M1394.5 922v2M1412.5 923v2M1421.5 924v2M1428.5 925v2M1439.5 927v2M1443.5 928v2M1448.5 929v2M1452.5 930v2M1456.5 931v2M1459.5 932v2M1463.5 933v2M1466.5 934v2M1473.5 936v2M1476.5 937v2M1479.5 938v2M1482.5 939v2M1485.5 940v2M1488.5 941v2M1491.5 942v2M1496.5 944v2M1499.5 945v2M1502.5 946v2M1505.5 947v2M1508.5 948v2M1513.5 950v2M1516.5 951v2M1519.5 952v2M1522.5 953v2M1525.5 954v2M1528.5 955v2M1531.5 956v2M1534.5 957v2M1541.5 959v2M1544.5 960v2M1548.5 961v2M1551.5 962v2M1555.5 963v2M1559.5 964v2M1564.5 965v2M1568.5 966v2M1574.5 967v2M1579.5 968v2M1586.5 969v2M1596.5 970v2M1632.5 970v2M1647.5 968v2M1653.5 967v2M1658.5 966v2M1662.5 965v2M1666.5 964v2M1670.5 963v2M1674.5 962v2M1677.5 961v2M1684.5 959v2M1687.5 958v2M1690.5 957v2M1693.5 956v2M1696.5 955v2M1699.5 954v2M1702.5 953v2M1704.5 952v2M1707.5 951v2M1710.5 950v2M1713.5 949v2M1716.5 948v2M1718.5 947v2M1721.5 946v2M1724.5 945v2M1727.5 944v2M1730.5 943v2M1732.5 942v2M1735.5 941v2M1738.5 940v2M1741.5 939v2M1744.5 938v2M1747.5 937v2M1754.5 935v2M1757.5 934v2M1761.5 933v2M1764.5 932v2M1768.5 931v2M1772.5 930v2M1776.5 929v2M1781.5 928v2M1786.5 927v2M1791.5 926v2M1797.5 925v2M1805.5 924v2M1814.5 923v2M1833.5 922v2M1842.5 922v2M1860.5 923v2M1869.5 924v2M1876.5 925v2M1882.5 926v2M1887.5 927v2M1892.5 928v2M1901.5 930v2M1904.5 931v2M1908.5 932v2M1912.5 933v2M1915.5 934v2M1918.5 935v2M1921.5 936v2M1925.5 937v2M1928.5 938v2M1931.5 939v2M1934.5 940v2M1939.5 942v2M1942.5 943v2M1945.5 944v2M1948.5 945v2M1951.5 946v2M1954.5 947v2M1956.5 948v2M1959.5 949v2M1962.5 950v2M1965.5 951v2M1968.5 952v2M1971.5 953v2M1974.5 954v2M1977.5 955v2M1980.5 956v2M1983.5 957v2M252 964.5h1M253 965.5h2M256 966.5h1M258 967.5h2M261 968.5h2M264 969.5h4M269 970.5h25M295 969.5h7M303 968.5h5M309 967.5h4M314 966.5h4M319 965.5h3M323 964.5h3M327 963.5h2M330 962.5h3M334 961.5h2M337 960.5h2M340 959.5h2M343 958.5h2M346 957.5h2M349 956.5h2M352 955.5h2M355 954.5h2M359 952.5h2M362 951.5h2M365 950.5h2M368 949.5h1M370 948.5h2M373 947.5h2M376 946.5h2M379 945.5h1M381 944.5h2M384 943.5h2M387 942.5h2M390 941.5h2M393 940.5h2M396 939.5h2M399 938.5h2M402 937.5h2M405 936.5h3M408 935.5h3M412 934.5h2M415 933.5h3M419 932.5h3M423 931.5h3M427 930.5h3M431 929.5h4M436 928.5h4M441 927.5h4M446 926.5h5M452 925.5h6M459 924.5h9M469 923.5h17M487 922.5h9M497 923.5h17M515 924.5h8M524 925.5h6M531 926.5h5M537 927.5h4M542 928.5h4M547 929.5h3M551 930.5h3M555 931.5h3M559 932.5h3M563 933.5h2M566 934.5h3M570 935.5h2M573 936.5h2M576 937.5h2M579 938.5h2M582 939.5h2M585 940.5h2M588 941.5h2M591 942.5h2M594 943.5h2M597 944.5h2M600 945.5h2M603 946.5h2M605 947.5h2M608 948.5h2M611 949.5h2M614 950.5h2M617 951.5h2M620 952.5h2M623 953.5h2M626 954.5h2M629 955.5h2M632 956.5h2M635 957.5h2M638 958.5h2M641 959.5h2M644 960.5h3M648 961.5h2M651 962.5h3M655 963.5h3M659 964.5h3M663 965.5h3M667 966.5h4M672 967.5h4M677 968.5h5M683 969.5h6M690 970.5h8M699 971.5h35M735 970.5h8M744 969.5h6M751 968.5h4M756 967.5h4M761 966.5h4M766 965.5h3M770 964.5h3M773 963.5h3M777 962.5h3M781 961.5h2M784 960.5h2M787 959.5h2M790 958.5h2M793 957.5h2M796 956.5h2M799 955.5h2M802 954.5h2M805 953.5h2M808 952.5h2M811 951.5h2M814 950.5h1M816 949.5h2M819 948.5h2M822 947.5h2M825 946.5h1M827 945.5h2M830 944.5h2M833 943.5h2M836 942.5h2M839 941.5h2M842 940.5h2M845 939.5h2M848 938.5h2M851 937.5h2M854 936.5h2M857 935.5h3M861 934.5h2M864 933.5h3M868 932.5h3M872 931.5h3M876 930.5h3M880 929.5h3M884 928.5h4M889 927.5h5M895 926.5h5M901 925.5h6M908 924.5h9M918 923.5h17M936 922.5h9M946 923.5h17M964 924.5h8M973 925.5h6M980 926.5h5M986 927.5h4M991 928.5h4M996 929.5h3M1000 930.5h3M1004 931.5h3M1008 932.5h3M1012 933.5h2M1015 934.5h2M1018 935.5h3M1022 936.5h2M1025 937.5h2M1028 938.5h2M1031 939.5h2M1034 940.5h2M1037 941.5h2M1040 942.5h2M1043 943.5h2M1046 944.5h2M1049 945.5h1M1051 946.5h2M1054 947.5h2M1057 948.5h2M1060 949.5h2M1063 950.5h2M1066 951.5h2M1068 952.5h2M1071 953.5h2M1074 954.5h2M1077 955.5h2M1080 956.5h2M1083 957.5h3M1087 958.5h2M1090 959.5h2M1093 960.5h2M1096 961.5h3M1100 962.5h3M1104 963.5h3M1108 964.5h3M1112 965.5h3M1116 966.5h4M1121 967.5h4M1126 968.5h5M1132 969.5h6M1139 970.5h8M1148 971.5h35M1184 970.5h8M1193 969.5h5M1199 968.5h5M1205 967.5h4M1210 966.5h3M1214 965.5h3M1218 964.5h3M1222 963.5h3M1226 962.5h2M1229 961.5h3M1233 960.5h2M1236 959.5h2M1239 958.5h2M1242 957.5h2M1245 956.5h2M1248 955.5h2M1251 954.5h2M1254 953.5h2M1257 952.5h2M1259 951.5h2M1262 950.5h2M1265 949.5h2M1268 948.5h2M1271 947.5h1M1273 946.5h2M1276 945.5h2M1279 944.5h2M1282 943.5h2M1285 942.5h2M1287 941.5h2M1290 940.5h2M1293 939.5h2M1296 938.5h3M1300 937.5h2M1303 936.5h2M1306 935.5h2M1309 934.5h3M1313 933.5h3M1317 932.5h2M1320 931.5h3M1324 930.5h4M1329 929.5h3M1333 928.5h4M1338 927.5h5M1343 926.5h6M1350 925.5h6M1357 924.5h8M1366 923.5h18M1385 922.5h9M1395 923.5h17M1413 924.5h8M1422 925.5h6M1429 926.5h5M1434 927.5h5M1440 928.5h3M1444 929.5h4M1449 930.5h3M1453 931.5h3M1457 932.5h2M1460 933.5h3M1464 934.5h2M1467 935.5h3M1470 936.5h3M1474 937.5h2M1477 938.5h2M1480 939.5h2M1483 940.5h2M1486 941.5h2M1489 942.5h2M1492 943.5h2M1494 944.5h2M1497 945.5h2M1500 946.5h2M1503 947.5h2M1506 948.5h2M1509 949.5h2M1511 950.5h2M1514 951.5h2M1517 952.5h2M1520 953.5h2M1523 954.5h2M1526 955.5h2M1529 956.5h2M1532 957.5h2M1535 958.5h3M1538 959.5h3M1542 960.5h2M1545 961.5h3M1549 962.5h2M1552 963.5h3M1556 964.5h3M1560 965.5h4M1565 966.5h3M1569 967.5h5M1575 968.5h4M1580 969.5h6M1587 970.5h9M1597 971.5h35M1633 970.5h8M1641 969.5h6M1648 968.5h5M1654 967.5h4M1659 966.5h3M1663 965.5h3M1667 964.5h3M1671 963.5h3M1675 962.5h2M1678 961.5h3M1681 960.5h3M1685 959.5h2M1688 958.5h2M1691 957.5h2M1694 956.5h2M1697 955.5h2M1700 954.5h2M1703 953.5h1M1705 952.5h2M1708 951.5h2M1711 950.5h2M1714 949.5h2M1717 948.5h1M1719 947.5h2M1722 946.5h2M1725 945.5h2M1728 944.5h2M1731 943.5h1M1733 942.5h2M1736 941.5h2M1739 940.5h2M1742 939.5h2M1745 938.5h2M1748 937.5h3M1751 936.5h3M1755 935.5h2M1758 934.5h3M1762 933.5h2M1765 932.5h3M1769 931.5h3M1773 930.5h3M1777 929.5h4M1782 928.5h4M1787 927.5h4M1792 926.5h5M1798 925.5h7M1806 924.5h8M1815 923.5h18M1834 922.5h8M1843 923.5h17M1861 924.5h8M1870 925.5h6M1877 926.5h5M1883 927.5h4M1888 928.5h4M1893 929.5h4M1897 930.5h4M1902 931.5h2M1905 932.5h3M1909 933.5h3M1913 934.5h2M1916 935.5h2M1919 936.5h2M1922 937.5h3M1926 938.5h2M1929 939.5h2M1932 940.5h2M1935 941.5h2M1937 942.5h2M1940 943.5h2M1943 944.5h2M1946 945.5h2M1949 946.5h2M1952 947.5h2M1955 948.5h1M1957 949.5h2M1960 950.5h2M1963 951.5h2M1966 952.5h2M1969 953.5h2M1972 954.5h2M1975 955.5h2M1978 956.5h2M1981 957.5h2M1984 958.5h3" fill="none" stroke="#0072BD" stroke-width="1" shape-rendering="crispEdges"/>
<path d="M192.5 947v34M193.5 981v70M194.5 1051v41M195.5 1092v9M196.5 1100v17M197.5 1100v17M198.5 1094v7M199.5 1076v19M200.5 1056v21M201.5 1034v23M202.5 1011v24M203.5 990v22M204.5 969v22M205.5 949v21M206.5 932v18M207.5 916v17M208.5 902v15M209.5 892v11M210.5 882v11M211.5 874v9M212.5 868v7M213.5 865v4M214.5 863v3M217.5 863v2M218.5 864v4M219.5 867v5M220.5 871v4M221.5 874v5M222.5 878v5M223.5 882v4M224.5 885v6M225.5 890v5M226.5 894v6M227.5 899v5M228.5 903v6M229.5 908v5M230.5 912v5M231.5 916v5M232.5 920v5M233.5 924v5M234.5 928v4M235.5 931v4M236.5 934v4M237.5 937v3M238.5 939v4M239.5 942v4M240.5 945v3M241.5 947v3M242.5 949v3M243.5 951v2M244.5 952v3M245.5 954v3M246.5 956v2M247.5 957v2M248.5 958v2M249.5 959v2M250.5 960v2M251.5 961v2M253.5 962v2M254.5 963v2M256.5 964v2M258.5 965v2M260.5 966v2M263.5 967v2M266.5 968v2M271.5 969v2M297.5 969v2M304.5 968v2M310.5 967v2M315.5 966v2M320.5 965v2M324.5 964v2M328.5 963v2M331.5 962v2M335.5 961v2M338.5 960v2M341.5 959v2M344.5 958v2M348.5 957v2M350.5 956v2M353.5 955v2M356.5 954v2M359.5 953v2M361.5 952v2M366.5 950v2M369.5 949v2M372.5 948v2M375.5 947v2M377.5 946v2M380.5 945v2M383.5 944v2M386.5 943v2M389.5 942v2M394.5 940v2M397.5 939v2M400.5 938v2M404.5 937v2M407.5 936v2M410.5 935v2M413.5 934v2M417.5 933v2M421.5 932v2M424.5 931v2M428.5 930v2M433.5 929v2M437.5 928v2M442.5 927v2M454.5 925v2M461.5 924v2M470.5 923v2M489.5 922v2M499.5 922v2M517.5 923v2M526.5 924v2M533.5 925v2M544.5 927v2M548.5 928v2M553.5 929v2M557.5 930v2M561.5 931v2M564.5 932v2M568.5 933v2M571.5 934v2M578.5 936v2M581.5 937v2M584.5 938v2M587.5 939v2M590.5 940v2M593.5 941v2M596.5 942v2M601.5 944v2M604.5 945v2M607.5 946v2M610.5 947v2M613.5 948v2M618.5 950v2M621.5 951v2M624.5 952v2M627.5 953v2M630.5 954v2M633.5 955v2M636.5 956v2M639.5 957v2M646.5 959v2M649.5 960v2M653.5 961v2M656.5 962v2M660.5 963v2M664.5 964v2M669.5 965v2M673.5 966v2M679.5 967v2M684.5 968v2M691.5 969v2M701.5 970v2M737.5 970v2M752.5 968v2M758.5 967v2M763.5 966v2M767.5 965v2M771.5 964v2M775.5 963v2M779.5 962v2M782.5 961v2M789.5 959v2M792.5 958v2M795.5 957v2M798.5 956v2M801.5 955v2M804.5 954v2M807.5 953v2M809.5 952v2M812.5 951v2M815.5 950v2M818.5 949v2M821.5 948v2M823.5 947v2M826.5 946v2M829.5 945v2M832.5 944v2M835.5 943v2M837.5 942v2M840.5 941v2M843.5 940v2M846.5 939v2M849.5 938v2M852.5 937v2M859.5 935v2M862.5 934v2M866.5 933v2M869.5 932v2M873.5 931v2M877.5 930v2M881.5 929v2M886.5 928v2M891.5 927v2M896.5 926v2M902.5 925v2M910.5 924v2M919.5 923v2M938.5 922v2M947.5 922v2M965.5 923v2M974.5 924v2M981.5 925v2M987.5 926v2M992.5 927v2M997.5 928v2M1006.5 930v2M1009.5 931v2M1013.5 932v2M1017.5 933v2M1020.5 934v2M1023.5 935v2M1026.5 936v2M1030.5 937v2M1033.5 938v2M1036.5 939v2M1039.5 940v2M1044.5 942v2M1047.5 943v2M1050.5 944v2M1053.5 945v2M1056.5 946v2M1059.5 947v2M1061.5 948v2M1064.5 949v2M1067.5 950v2M1070.5 951v2M1073.5 952v2M1076.5 953v2M1079.5 954v2M1082.5 955v2M1085.5 956v2M1088.5 957v2M1091.5 958v2M1095.5 959v2M1098.5 960v2M1105.5 962v2M1109.5 963v2M1113.5 964v2M1117.5 965v2M1122.5 966v2M1127.5 967v2M1133.5 968v2M1140.5 969v2M1149.5 970v2M1185.5 970v2M1194.5 969v2M1201.5 968v2M1206.5 967v2M1211.5 966v2M1216.5 965v2M1220.5 964v2M1224.5 963v2M1227.5 962v2M1231.5 961v2M1234.5 960v2M1237.5 959v2M1241.5 958v2M1244.5 957v2M1247.5 956v2M1250.5 955v2M1255.5 953v2M1258.5 952v2M1261.5 951v2M1264.5 950v2M1267.5 949v2M1269.5 948v2M1272.5 947v2M1275.5 946v2M1278.5 945v2M1280.5 944v2M1283.5 943v2M1286.5 942v2M1289.5 941v2M1292.5 940v2M1295.5 939v2M1298.5 938v2M1301.5 937v2M1304.5 936v2M1311.5 934v2M1314.5 933v2M1318.5 932v2M1322.5 931v2M1326.5 930v2M1330.5 929v2M1335.5 928v2M1340.5 927v2M1345.5 926v2M1351.5 925v2M1358.5 924v2M1368.5 923v2M1386.5 922v2M1396.5 922v2M1414.5 923v2M1423.5 924v2M1430.5 925v2M1436.5 926v2M1441.5 927v2M1446.5 928v2M1450.5 929v2M1454.5 930v2M1458.5 931v2M1462.5 932v2M1465.5 933v2M1469.5 934v2M1472.5 935v2M1475.5 936v2M1478.5 937v2M1481.5 938v2M1484.5 939v2M1487.5 940v2M1490.5 941v2M1493.5 942v2M1496.5 943v2M1499.5 944v2M1502.5 945v2M1507.5 947v2M1510.5 948v2M1513.5 949v2M1516.5 950v2M1519.5 951v2M1522.5 952v2M1525.5 953v2M1528.5 954v2M1531.5 955v2M1534.5 956v2M1537.5 957v2M1540.5 958v2M1543.5 959v2M1547.5 960v2M1550.5 961v2M1554.5 962v2M1558.5 963v2M1562.5 964v2M1566.5 965v2M1571.5 966v2M1576.5 967v2M1582.5 968v2M1589.5 969v2M1598.5 970v2M1634.5 970v2M1643.5 969v2M1650.5 968v2M1655.5 967v2M1660.5 966v2M1665.5 965v2M1669.5 964v2M1676.5 962v2M1680.5 961v2M1683.5 960v2M1686.5 959v2M1689.5 958v2M1692.5 957v2M1695.5 956v2M1698.5 955v2M1701.5 954v2M1704.5 953v2M1707.5 952v2M1710.5 951v2M1713.5 950v2M1715.5 949v2M1718.5 948v2M1721.5 947v2M1724.5 946v2M1726.5 945v2M1729.5 944v2M1732.5 943v2M1735.5 942v2M1738.5 941v2M1741.5 940v2M1744.5 939v2M1747.5 938v2M1750.5 937v2M1753.5 936v2M1756.5 935v2M1760.5 934v2M1763.5 933v2M1767.5 932v2M1771.5 931v2M1775.5 930v2M1779.5 929v2M1783.5 928v2M1788.5 927v2M1794.5 926v2M1800.5 925v2M1807.5 924v2M1817.5 923v2M1835.5 922v2M1845.5 922v2M1863.5 923v2M1872.5 924v2M1879.5 925v2M1885.5 926v2M1890.5 927v2M1895.5 928v2M1899.5 929v2M1903.5 930v2M1907.5 931v2M1911.5 932v2M1914.5 933v2M1917.5 934v2M1921.5 935v2M1924.5 936v2M1927.5 937v2M1930.5 938v2M1933.5 939v2M1936.5 940v2M1939.5 941v2M1942.5 942v2M1945.5 943v2M1948.5 944v2M1950.5 945v2M1953.5 946v2M1956.5 947v2M1959.5 948v2M1962.5 949v2M1965.5 950v2M1970.5 952v2M1973.5 953v2M1976.5 954v2M1979.5 955v2M1982.5 956v2M1986.5 947v12M215 863.5h2M252 962.5h1M255 964.5h1M257 965.5h1M259 966.5h1M261 967.5h2M264 968.5h2M267 969.5h4M272 970.5h25M298 969.5h6M305 968.5h5M311 967.5h4M316 966.5h4M321 965.5h3M325 964.5h3M329 963.5h2M332 962.5h3M336 961.5h2M339 960.5h2M342 959.5h2M345 958.5h3M349 957.5h1M351 956.5h2M354 955.5h2M357 954.5h2M360 953.5h1M362 952.5h2M364 951.5h2M367 950.5h2M370 949.5h2M373 948.5h2M376 947.5h1M378 946.5h2M381 945.5h2M384 944.5h2M387 943.5h2M390 942.5h2M392 941.5h2M395 940.5h2M398 939.5h2M401 938.5h3M405 937.5h2M408 936.5h2M411 935.5h2M414 934.5h3M418 933.5h3M422 932.5h2M425 931.5h3M429 930.5h4M434 929.5h3M438 928.5h4M443 927.5h5M448 926.5h6M455 925.5h6M462 924.5h8M471 923.5h18M490 922.5h9M500 923.5h17M518 924.5h8M527 925.5h6M534 926.5h5M539 927.5h5M545 928.5h3M549 929.5h4M554 930.5h3M558 931.5h3M562 932.5h2M565 933.5h3M569 934.5h2M572 935.5h3M575 936.5h3M579 937.5h2M582 938.5h2M585 939.5h2M588 940.5h2M591 941.5h2M594 942.5h2M597 943.5h2M599 944.5h2M602 945.5h2M605 946.5h2M608 947.5h2M611 948.5h2M614 949.5h2M616 950.5h2M619 951.5h2M622 952.5h2M625 953.5h2M628 954.5h2M631 955.5h2M634 956.5h2M637 957.5h2M640 958.5h3M643 959.5h3M647 960.5h2M650 961.5h3M654 962.5h2M657 963.5h3M661 964.5h3M665 965.5h4M670 966.5h3M674 967.5h5M680 968.5h4M685 969.5h6M692 970.5h9M702 971.5h35M738 970.5h8M746 969.5h6M753 968.5h5M759 967.5h4M764 966.5h3M768 965.5h3M772 964.5h3M776 963.5h3M780 962.5h2M783 961.5h3M786 960.5h3M790 959.5h2M793 958.5h2M796 957.5h2M799 956.5h2M802 955.5h2M805 954.5h2M808 953.5h1M810 952.5h2M813 951.5h2M816 950.5h2M819 949.5h2M822 948.5h1M824 947.5h2M827 946.5h2M830 945.5h2M833 944.5h2M836 943.5h1M838 942.5h2M841 941.5h2M844 940.5h2M847 939.5h2M850 938.5h2M853 937.5h3M856 936.5h3M860 935.5h2M863 934.5h3M867 933.5h2M870 932.5h3M874 931.5h3M878 930.5h3M882 929.5h4M887 928.5h4M892 927.5h4M897 926.5h5M903 925.5h7M911 924.5h8M920 923.5h18M939 922.5h8M948 923.5h17M966 924.5h8M975 925.5h6M982 926.5h5M988 927.5h4M993 928.5h4M998 929.5h4M1002 930.5h4M1007 931.5h2M1010 932.5h3M1014 933.5h3M1018 934.5h2M1021 935.5h2M1024 936.5h2M1027 937.5h3M1031 938.5h2M1034 939.5h2M1037 940.5h2M1040 941.5h2M1042 942.5h2M1045 943.5h2M1048 944.5h2M1051 945.5h2M1054 946.5h2M1057 947.5h2M1060 948.5h1M1062 949.5h2M1065 950.5h2M1068 951.5h2M1071 952.5h2M1074 953.5h2M1077 954.5h2M1080 955.5h2M1083 956.5h2M1086 957.5h2M1089 958.5h2M1092 959.5h3M1096 960.5h2M1099 961.5h3M1102 962.5h3M1106 963.5h3M1110 964.5h3M1114 965.5h3M1118 966.5h4M1123 967.5h4M1128 968.5h5M1134 969.5h6M1141 970.5h8M1150 971.5h35M1186 970.5h8M1195 969.5h6M1202 968.5h4M1207 967.5h4M1212 966.5h4M1217 965.5h3M1221 964.5h3M1225 963.5h2M1228 962.5h3M1232 961.5h2M1235 960.5h2M1238 959.5h3M1242 958.5h2M1245 957.5h2M1248 956.5h2M1251 955.5h2M1253 954.5h2M1256 953.5h2M1259 952.5h2M1262 951.5h2M1265 950.5h2M1268 949.5h1M1270 948.5h2M1273 947.5h2M1276 946.5h2M1279 945.5h1M1281 944.5h2M1284 943.5h2M1287 942.5h2M1290 941.5h2M1293 940.5h2M1296 939.5h2M1299 938.5h2M1302 937.5h2M1305 936.5h3M1308 935.5h3M1312 934.5h2M1315 933.5h3M1319 932.5h3M1323 931.5h3M1327 930.5h3M1331 929.5h4M1336 928.5h4M1341 927.5h4M1346 926.5h5M1352 925.5h6M1359 924.5h9M1369 923.5h17M1387 922.5h9M1397 923.5h17M1415 924.5h8M1424 925.5h6M1431 926.5h5M1437 927.5h4M1442 928.5h4M1447 929.5h3M1451 930.5h3M1455 931.5h3M1459 932.5h3M1463 933.5h2M1466 934.5h3M1470 935.5h2M1473 936.5h2M1476 937.5h2M1479 938.5h2M1482 939.5h2M1485 940.5h2M1488 941.5h2M1491 942.5h2M1494 943.5h2M1497 944.5h2M1500 945.5h2M1503 946.5h2M1505 947.5h2M1508 948.5h2M1511 949.5h2M1514 950.5h2M1517 951.5h2M1520 952.5h2M1523 953.5h2M1526 954.5h2M1529 955.5h2M1532 956.5h2M1535 957.5h2M1538 958.5h2M1541 959.5h2M1544 960.5h3M1548 961.5h2M1551 962.5h3M1555 963.5h3M1559 964.5h3M1563 965.5h3M1567 966.5h4M1572 967.5h4M1577 968.5h5M1583 969.5h6M1590 970.5h8M1599 971.5h35M1635 970.5h8M1644 969.5h6M1651 968.5h4M1656 967.5h4M1661 966.5h4M1666 965.5h3M1670 964.5h3M1673 963.5h3M1677 962.5h3M1681 961.5h2M1684 960.5h2M1687 959.5h2M1690 958.5h2M1693 957.5h2M1696 956.5h2M1699 955.5h2M1702 954.5h2M1705 953.5h2M1708 952.5h2M1711 951.5h2M1714 950.5h1M1716 949.5h2M1719 948.5h2M1722 947.5h2M1725 946.5h1M1727 945.5h2M1730 944.5h2M1733 943.5h2M1736 942.5h2M1739 941.5h2M1742 940.5h2M1745 939.5h2M1748 938.5h2M1751 937.5h2M1754 936.5h2M1757 935.5h3M1761 934.5h2M1764 933.5h3M1768 932.5h3M1772 931.5h3M1776 930.5h3M1780 929.5h3M1784 928.5h4M1789 927.5h5M1795 926.5h5M1801 925.5h6M1808 924.5h9M1818 923.5h17M1836 922.5h9M1846 923.5h17M1864 924.5h8M1873 925.5h6M1880 926.5h5M1886 927.5h4M1891 928.5h4M1896 929.5h3M1900 930.5h3M1904 931.5h3M1908 932.5h3M1912 933.5h2M1915 934.5h2M1918 935.5h3M1922 936.5h2M1925 937.5h2M1928 938.5h2M1931 939.5h2M1934 940.5h2M1937 941.5h2M1940 942.5h2M1943 943.5h2M1946 944.5h2M1949 945.5h1M1951 946.5h2M1954 947.5h2M1957 948.5h2M1960 949.5h2M1963 950.5h2M1966 951.5h2M1968 952.5h2M1971 953.5h2M1974 954.5h2M1977 955.5h2M1980 956.5h2M1983 957.5h3M1987 947.5h1" fill="none" stroke="#D95319" stroke-width="1" shape-rendering="crispEdges"/>
<path d="M737 831.5h81" stroke="#0072BD" stroke-width="1" shape-rendering="crispEdges"/>
<path d="M1109 831.5h82" stroke="#D95319" stroke-width="1" shape-rendering="crispEdges"/>
<text fill="#000" stroke="#000" stroke-width="0.45" stroke-linejoin="round" ><tspan x="824.49" y="844.00" font-size="49.44" textLength="26.15" lengthAdjust="spacingAndGlyphs">h</tspan><tspan x="853.17" y="844.39" font-size="54.04" textLength="15.43" lengthAdjust="spacingAndGlyphs">(</tspan><tspan x="869.54" y="844.00" font-size="48.15" textLength="25.89" lengthAdjust="spacingAndGlyphs">x</tspan><tspan x="895.81" y="844.39" font-size="54.04" textLength="15.43" lengthAdjust="spacingAndGlyphs">)</tspan><tspan x="915.82" y="844.39" font-size="54.04" textLength="15.81" lengthAdjust="spacingAndGlyphs">(</tspan><tspan x="932.37" y="844.00" font-size="51.92" textLength="44.19" lengthAdjust="spacingAndGlyphs">M</tspan><tspan x="976.66" y="844.57" font-size="53.88" textLength="37.68" lengthAdjust="spacingAndGlyphs">O</tspan><tspan x="1013.60" y="844.00" font-size="51.92" textLength="34.74" lengthAdjust="spacingAndGlyphs">B</tspan><tspan x="1047.42" y="844.00" font-size="51.92" textLength="35.58" lengthAdjust="spacingAndGlyphs">E</tspan><tspan x="1081.13" y="844.39" font-size="54.04" textLength="17.24" lengthAdjust="spacingAndGlyphs">)</tspan></text>
<text fill="#000" stroke="#000" stroke-width="0.45" stroke-linejoin="round" ><tspan x="1193.71" y="844.54" font-size="43.62" textLength="27.44" lengthAdjust="spacingAndGlyphs" font-style="italic" font-family="'DejaVu Serif','Liberation Serif',serif">τ</tspan><tspan x="1216.70" y="851.00" font-size="34.84" textLength="17.61" lengthAdjust="spacingAndGlyphs">1</tspan><tspan x="1239.02" y="844.39" font-size="54.04" textLength="15.81" lengthAdjust="spacingAndGlyphs">(</tspan><tspan x="1257.55" y="844.00" font-size="51.92" textLength="46.11" lengthAdjust="spacingAndGlyphs" font-style="italic">M</tspan><tspan x="1307.25" y="844.57" font-size="53.88" textLength="38.09" lengthAdjust="spacingAndGlyphs" font-style="italic">O</tspan><tspan x="1346.42" y="844.00" font-size="51.92" textLength="38.15" lengthAdjust="spacingAndGlyphs" font-style="italic">B</tspan><tspan x="1386.80" y="844.00" font-size="51.92" textLength="36.46" lengthAdjust="spacingAndGlyphs" font-style="italic">E</tspan><tspan x="1423.20" y="844.39" font-size="54.04" textLength="16.59" lengthAdjust="spacingAndGlyphs">)</tspan></text></g>
<text fill="#262626"><tspan x="995.86" y="1432.00" font-size="59.71" textLength="35.20" lengthAdjust="spacingAndGlyphs">T</tspan><tspan x="1032.97" y="1432.00" font-size="62.08" textLength="14.95" lengthAdjust="spacingAndGlyphs">i</tspan><tspan x="1047.62" y="1432.00" font-size="59.85" textLength="47.33" lengthAdjust="spacingAndGlyphs">m</tspan><tspan x="1093.54" y="1432.11" font-size="60.08" textLength="26.74" lengthAdjust="spacingAndGlyphs">e</tspan><tspan x="1118.91" y="1432.22" font-size="59.56" textLength="21.13" lengthAdjust="spacingAndGlyphs">(</tspan><tspan x="1140.66" y="1432.11" font-size="60.08" textLength="22.20" lengthAdjust="spacingAndGlyphs">s</tspan><tspan x="1162.76" y="1432.22" font-size="59.56" textLength="21.13" lengthAdjust="spacingAndGlyphs">)</tspan></text>
</svg>
</body>
</html>
